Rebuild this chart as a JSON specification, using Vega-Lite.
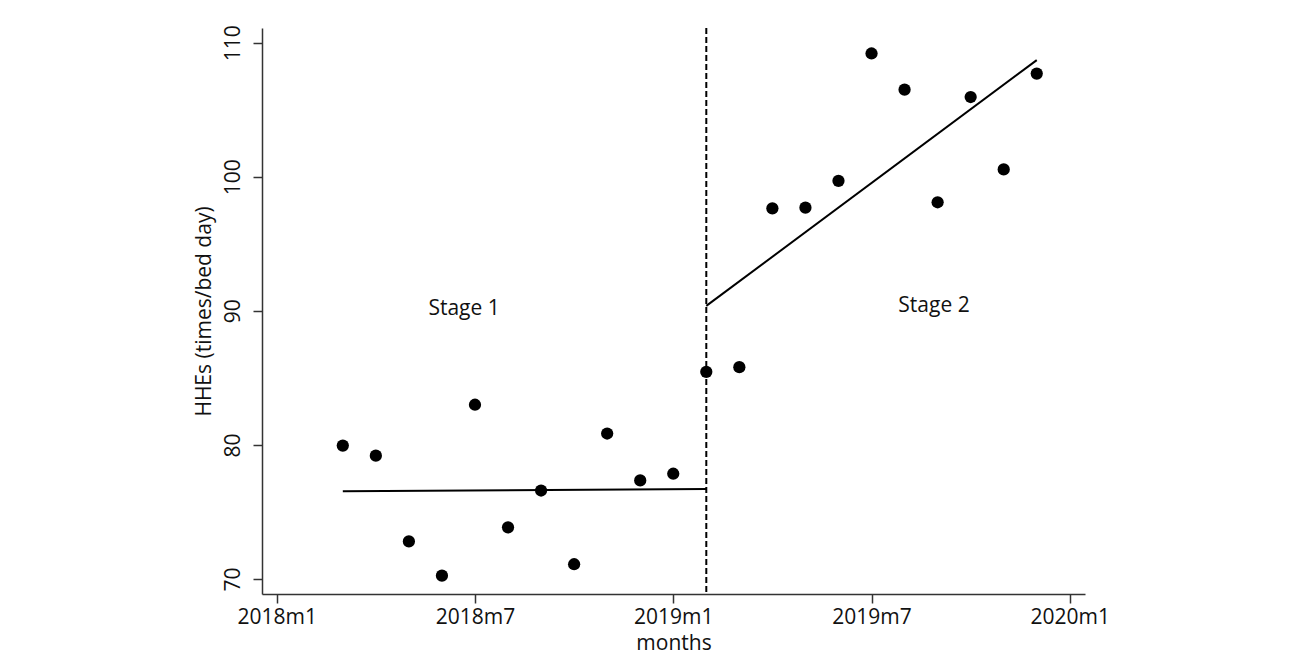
{
  "$schema": "https://vega.github.io/schema/vega-lite/v6.json",
  "autosize": {"type": "none"},
  "width": 823,
  "height": 566,
  "padding": {"left": 262, "top": 28, "right": 207, "bottom": 61},
  "background": "white",
  "config": {
    "view": {"stroke": null},
    "font": "Open Sans",
    "axis": {
      "grid": false,
      "domainColor": "#333333",
      "domainWidth": 1.5,
      "tickColor": "#333333",
      "tickWidth": 1.5,
      "tickSize": 9,
      "labelFont": "Open Sans",
      "labelFontSize": 21,
      "labelColor": "#111111",
      "titleFont": "Open Sans",
      "titleFontSize": 21,
      "titleFontWeight": "normal",
      "titleColor": "#111111"
    }
  },
  "datasets": {
    "obs": [
      {"m": 2, "v": 79.95},
      {"m": 3, "v": 79.2},
      {"m": 4, "v": 72.8},
      {"m": 5, "v": 70.25},
      {"m": 6, "v": 83.0},
      {"m": 7, "v": 73.85},
      {"m": 8, "v": 76.6},
      {"m": 9, "v": 71.1},
      {"m": 10, "v": 80.85},
      {"m": 11, "v": 77.35},
      {"m": 12, "v": 77.85},
      {"m": 13, "v": 85.45},
      {"m": 14, "v": 85.8},
      {"m": 15, "v": 97.65},
      {"m": 16, "v": 97.7},
      {"m": 17, "v": 99.7},
      {"m": 18, "v": 109.2},
      {"m": 19, "v": 106.5},
      {"m": 20, "v": 98.1},
      {"m": 21, "v": 105.95},
      {"m": 22, "v": 100.55},
      {"m": 23, "v": 107.7}
    ],
    "fit": [
      {"stage": "Stage 1", "m": 2, "v": 76.55},
      {"stage": "Stage 1", "m": 13, "v": 76.72},
      {"stage": "Stage 2", "m": 13, "v": 90.37},
      {"stage": "Stage 2", "m": 23, "v": 108.7}
    ],
    "cut": [{"m": 13}],
    "labels": [
      {"m": 5.67, "v": 90.15, "label": "Stage 1"},
      {"m": 19.89, "v": 90.37, "label": "Stage 2"}
    ]
  },
  "layer": [
    {
      "data": {"name": "cut"},
      "mark": {"type": "rule", "color": "#000000", "strokeWidth": 2, "strokeDash": [6, 3]},
      "encoding": {
        "x": {"field": "m", "type": "quantitative"}
      }
    },
    {
      "data": {"name": "fit"},
      "mark": {"type": "line", "color": "#000000", "strokeWidth": 2},
      "encoding": {
        "x": {"field": "m", "type": "quantitative"},
        "y": {"field": "v", "type": "quantitative"},
        "detail": {"field": "stage", "type": "nominal"}
      }
    },
    {
      "data": {"name": "obs"},
      "mark": {"type": "circle", "color": "#000000", "opacity": 1, "size": 150},
      "encoding": {
        "x": {
          "field": "m",
          "type": "quantitative",
          "scale": {"domain": [-0.445, 24.46], "nice": false, "zero": false},
          "axis": {
            "title": "months",
            "values": [0, 6, 12, 18, 24],
            "labelExpr": "(floor(datum.value / 12) + 2018) + 'm' + (datum.value % 12 + 1)",
            "labelPadding": 3,
            "titlePadding": 5,
            "labelFlush": false,
            "labelOverlap": false
          }
        },
        "y": {
          "field": "v",
          "type": "quantitative",
          "scale": {"domain": [68.88, 111.1], "nice": false, "zero": false},
          "axis": {
            "title": "HHEs (times/bed day)",
            "values": [70, 80, 90, 100, 110],
            "labelAngle": -90,
            "labelAlign": "center",
            "labelBaseline": "alphabetic",
            "labelPadding": 14,
            "titlePadding": 8,
            "labelFlush": false,
            "labelOverlap": false
          }
        }
      }
    },
    {
      "data": {"name": "labels"},
      "mark": {"type": "text", "font": "Open Sans", "fontSize": 21, "color": "#111111", "align": "center", "baseline": "middle"},
      "encoding": {
        "x": {"field": "m", "type": "quantitative"},
        "y": {"field": "v", "type": "quantitative"},
        "text": {"field": "label", "type": "nominal"}
      }
    }
  ]
}
